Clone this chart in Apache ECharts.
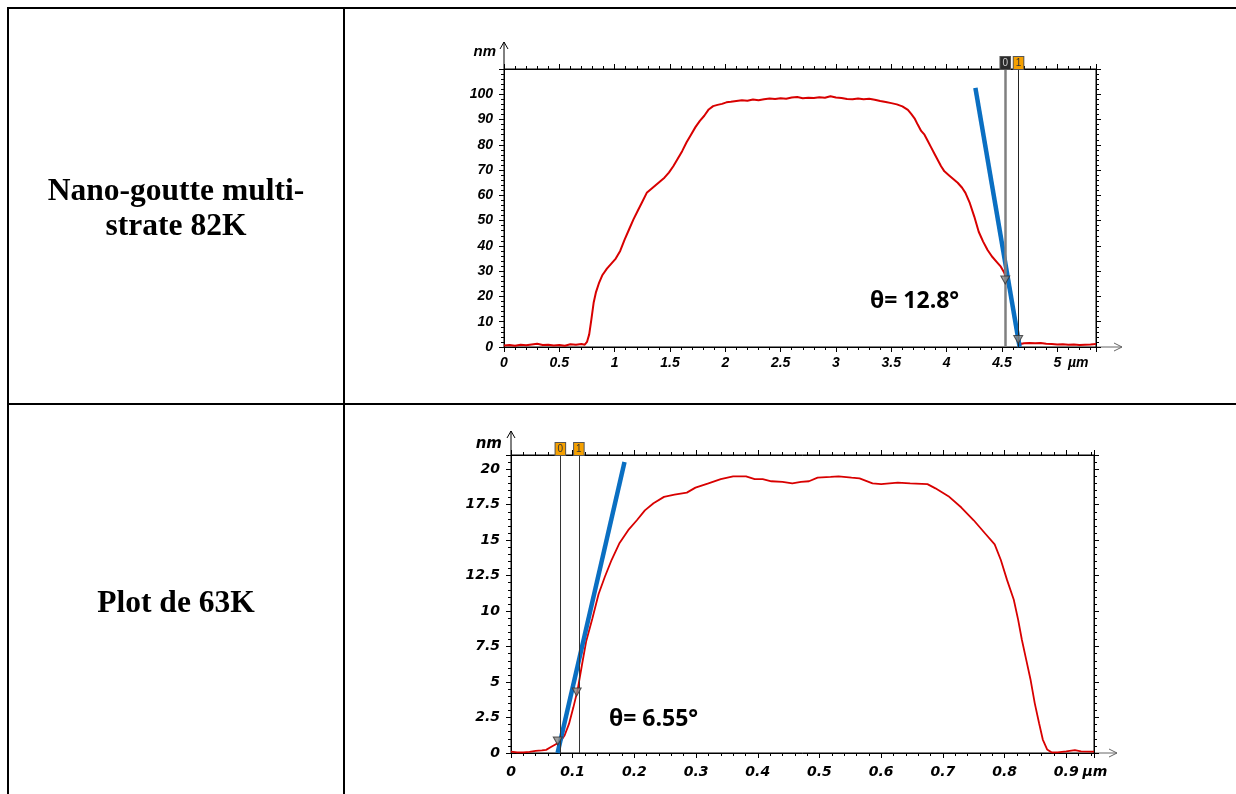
<!DOCTYPE html>
<html>
<head>
<meta charset="utf-8">
<script src="https://cdn.jsdelivr.net/npm/echarts@6/dist/echarts.min.js"></script>
<style>
html,body{margin:0;padding:0;background:#fff;}
#chart{width:1236px;height:794px;}
</style>
</head>
<body>
<div id="chart"></div>
<script>
// ---------- Data ----------
const rowLabels = ['Nano-goutte multi-\nstrate 82K', 'Plot de 63K'];
const thetaLabels = ['θ= 12.8°', 'θ= 6.55°'];

// Profile 1 (µm, nm)
const profile1X = [0.00,0.05,0.10,0.15,0.20,0.25,0.30,0.35,0.40,0.45,0.50,0.55,0.60,0.65,0.70,0.73,0.75,0.77,0.79,0.81,0.83,0.86,0.89,0.93,0.97,1.01,1.05,1.09,1.13,1.17,1.21,1.25,1.29,1.33,1.37,1.41,1.45,1.49,1.53,1.57,1.61,1.65,1.69,1.73,1.77,1.81,1.85,1.89,1.93,1.97,2.01,2.05,2.10,2.15,2.20,2.25,2.30,2.35,2.40,2.45,2.50,2.55,2.60,2.65,2.70,2.75,2.80,2.85,2.90,2.95,3.00,3.05,3.10,3.15,3.20,3.25,3.30,3.35,3.40,3.45,3.50,3.55,3.60,3.65,3.68,3.71,3.74,3.77,3.80,3.83,3.86,3.89,3.92,3.95,3.98,4.02,4.06,4.10,4.14,4.17,4.21,4.25,4.29,4.33,4.37,4.41,4.45,4.49,4.52,4.55,4.58,4.61,4.63,4.65,4.67,4.70,4.75,4.80,4.85,4.90,4.95,5.00,5.05,5.10,5.15,5.20,5.25,5.30,5.35];
const profile1Y = [0.6,0.8,0.5,0.9,0.7,1.0,1.3,0.8,0.9,0.6,0.8,0.5,1.1,0.9,1.2,0.9,2.0,5.0,11.0,17.5,21.5,25.5,28.5,31.0,33.0,35.0,38.0,42.5,46.5,50.5,54.0,57.5,61.0,62.5,64.0,65.5,67.0,69.0,71.5,74.5,77.5,81.0,84.0,87.0,89.5,91.5,94.0,95.3,95.8,96.2,96.8,97.0,97.3,97.6,97.4,97.9,97.6,98.0,98.3,98.1,98.4,98.2,98.7,98.9,98.4,98.6,98.5,98.8,98.6,99.2,98.7,98.5,98.1,98.0,98.3,98.0,98.2,97.8,97.3,96.9,96.5,96.0,95.2,93.8,92.2,90.5,87.9,85.5,84.0,81.5,79.0,76.5,74.0,71.5,69.5,68.0,66.5,65.0,63.0,61.0,56.9,51.6,45.6,41.7,38.4,35.8,33.8,31.8,29.5,25.5,20.0,13.0,8.0,3.0,1.2,1.5,1.6,1.5,1.6,1.3,1.2,1.0,1.1,0.9,1.0,0.8,0.9,1.0,1.2];

// Profile 2 (µm, nm)
const profile2X = [0.000,0.010,0.020,0.030,0.040,0.050,0.057,0.064,0.072,0.080,0.087,0.094,0.101,0.108,0.115,0.122,0.132,0.142,0.152,0.163,0.176,0.190,0.204,0.217,0.231,0.248,0.265,0.285,0.299,0.320,0.340,0.360,0.381,0.395,0.408,0.422,0.440,0.456,0.470,0.483,0.497,0.518,0.531,0.552,0.565,0.586,0.600,0.627,0.647,0.675,0.688,0.709,0.730,0.750,0.770,0.784,0.794,0.804,0.815,0.822,0.828,0.835,0.842,0.849,0.856,0.862,0.869,0.876,0.886,0.900,0.914,0.924,0.945];
const profile2Y = [0.10,0.05,0.05,0.08,0.15,0.18,0.22,0.40,0.60,0.80,1.25,2.05,3.20,4.45,6.20,7.90,9.50,11.2,12.4,13.6,14.8,15.7,16.4,17.1,17.6,18.05,18.2,18.35,18.7,19.0,19.3,19.5,19.5,19.3,19.3,19.15,19.1,19.0,19.1,19.15,19.4,19.46,19.5,19.4,19.35,19.0,18.95,19.05,19.0,18.95,18.65,18.1,17.3,16.4,15.4,14.7,13.6,12.2,10.8,9.4,8.0,6.6,5.2,3.5,2.1,0.95,0.25,0.05,0.05,0.12,0.2,0.12,0.1];

// Tangent lines (µm, nm)
const tangent1 = [[4.26, 102.5], [4.66, 0]];
const tangent2 = [[0.0755, 0], [0.184, 20.5]];

// Cursor positions (µm) and their marker heights (nm)
const cursors1X = [4.53, 4.647];
const cursors1Mark = [26.5, 3.0];
const cursors2X = [0.0758, 0.1065];
const cursors2Mark = [0.85, 4.3];
const cursorNames = ['0', '1'];

// Axis ranges
const xRange1 = [0, 5.35], yRange1 = [0, 110];
const xRange2 = [0, 0.945], yRange2 = [0, 21];
const xInterval1 = 0.5, yInterval1 = 10;
const xInterval2 = 0.1, yInterval2 = 2.5;

// ---------- Layout ----------
const G1 = {left: 504, top: 69, width: 592, height: 278};
const G2 = {left: 511, top: 455, width: 583, height: 298};

const zip = (xs, ys) => xs.map((x, i) => [x, ys[i]]);

const font1 = {fontFamily: 'Liberation Sans', fontWeight: 'bold', fontStyle: 'italic', fontSize: 14, color: '#000'};
const font2 = {fontFamily: 'DejaVu Sans', fontWeight: 'bold', fontStyle: 'italic', fontSize: 14, color: '#000'};

function mkX(grid, range, interval, font, bottom, nameGap, labelMargin, minorSplit) {
  return {
    type: 'value', gridIndex: grid, position: bottom ? 'bottom' : 'top',
    min: range[0], max: range[1], interval: interval,
    axisLine: {show: true, onZero: false, lineStyle: {color: '#000', width: 1}},
    axisTick: {show: true, inside: false, length: 5, lineStyle: {color: '#000'}},
    minorTick: {show: true, splitNumber: minorSplit, length: 3, lineStyle: {color: '#000'}},
    splitLine: {show: false},
    axisLabel: bottom ? Object.assign({show: true, margin: labelMargin, showMaxLabel: false, showMinLabel: true}, font) : {show: false},
    name: bottom ? 'µm' : '',
    nameLocation: 'end', nameGap: nameGap,
    nameTextStyle: Object.assign({align: 'left', verticalAlign: 'top', padding: [labelMargin, 0, 0, 0]}, font)
  };
}
function mkY(grid, range, interval, font, left, nameGap, namePad, minorSplit) {
  return {
    type: 'value', gridIndex: grid, position: left ? 'left' : 'right',
    min: range[0], max: range[1], interval: interval,
    axisLine: {show: true, onZero: false, lineStyle: {color: '#000', width: 1}},
    axisTick: {show: true, inside: false, length: 5, lineStyle: {color: '#000'}},
    minorTick: {show: true, splitNumber: minorSplit, length: 3, lineStyle: {color: '#000'}},
    splitLine: {show: false},
    axisLabel: left ? Object.assign({show: true, margin: 11, showMaxLabel: false}, font) : {show: false},
    name: left ? 'nm' : '',
    nameLocation: 'end', nameGap: nameGap,
    nameTextStyle: Object.assign({align: 'right', verticalAlign: 'middle', padding: [0, namePad, 0, 0]}, font, {fontSize: 15})
  };
}

function cursorMarkLine(xs, styles) {
  return {
    silent: true, symbol: ['none', 'none'], animation: false,
    data: xs.map((x, i) => ({
      xAxis: x,
      lineStyle: {type: 'solid', color: styles[i].line, width: styles[i].width},
      label: {
        show: true, position: 'end', distance: 0, formatter: cursorNames[i],
        backgroundColor: styles[i].bg, color: styles[i].fg,
        borderColor: '#555', borderWidth: 1,
        padding: [1, 2, 0, 2], fontSize: 10, fontFamily: 'Liberation Sans', lineHeight: 11
      }
    }))
  };
}

const triStyle = {color: '#8a8a8a', borderColor: '#333', borderWidth: 1};

// Table lines and labels (page decoration)
const tableGraphics = [
  {type: 'rect', shape: {x: 7, y: 7, width: 1229, height: 2}, style: {fill: '#000'}},
  {type: 'rect', shape: {x: 7, y: 7, width: 2, height: 787}, style: {fill: '#000'}},
  {type: 'rect', shape: {x: 343, y: 7, width: 2, height: 787}, style: {fill: '#000'}},
  {type: 'rect', shape: {x: 7, y: 403, width: 1229, height: 2}, style: {fill: '#000'}},
  {type: 'text', x: 176, y: 209, style: {text: rowLabels[0], font: 'bold 31.5px "Liberation Serif"', fill: '#000', align: 'center', verticalAlign: 'middle', lineHeight: 35}},
  {type: 'text', x: 176, y: 604, style: {text: rowLabels[1], font: 'bold 31.5px "Liberation Serif"', fill: '#000', align: 'center', verticalAlign: 'middle'}},
  // theta annotations
  {type: 'text', x: 870, y: 301, style: {text: thetaLabels[0], font: 'bold 23px "Open Sans"', fill: '#000', align: 'left', verticalAlign: 'middle'}},
  {type: 'text', x: 609, y: 719, style: {text: thetaLabels[1], font: 'bold 23px "Open Sans"', fill: '#000', align: 'left', verticalAlign: 'middle'}}
];

// axis arrows
function arrows(g, yTop, xEnd) {
  const xl = g.left, yb = g.top + g.height, xr = g.left + g.width;
  return [
    {type: 'line', shape: {x1: xl, y1: g.top, x2: xl, y2: yTop}, style: {stroke: '#000', lineWidth: 1}},
    {type: 'polyline', shape: {points: [[xl - 4, yTop + 7], [xl, yTop], [xl + 4, yTop + 7]]}, style: {stroke: '#000', lineWidth: 1, fill: null}},
    {type: 'line', shape: {x1: xr, y1: yb, x2: xEnd, y2: yb}, style: {stroke: '#666', lineWidth: 1}},
    {type: 'polyline', shape: {points: [[xEnd - 8, yb - 4], [xEnd, yb], [xEnd - 8, yb + 4]]}, style: {stroke: '#666', lineWidth: 1, fill: null}}
  ];
}

const option = {
  animation: false,
  backgroundColor: '#fff',
  grid: [
    Object.assign({show: true, borderColor: '#000', borderWidth: 1, containLabel: false}, G1),
    Object.assign({show: true, borderColor: '#000', borderWidth: 1, containLabel: false}, G2)
  ],
  xAxis: [
    mkX(0, xRange1, xInterval1, font1, true, -28, 9, 5),
    mkX(0, xRange1, xInterval1, font1, false, 0, 9, 5),
    mkX(1, xRange2, xInterval2, font2, true, -13, 12, 5),
    mkX(1, xRange2, xInterval2, font2, false, 0, 12, 5)
  ],
  yAxis: [
    mkY(0, yRange1, yInterval1, font1, true, 17, 8, 5),
    mkY(0, yRange1, yInterval1, font1, false, 0, 8, 5),
    mkY(1, yRange2, yInterval2, font2, true, 11, 9, 5),
    mkY(1, yRange2, yInterval2, font2, false, 0, 9, 5)
  ],
  graphic: tableGraphics.concat(arrows(G1, 42, 1122), arrows(G2, 431, 1117)),
  series: [
    {
      name: 'profile1', type: 'line', xAxisIndex: 0, yAxisIndex: 0,
      data: zip(profile1X, profile1Y), showSymbol: false, smooth: false,
      lineStyle: {color: '#d80000', width: 2}, z: 2,
      markLine: cursorMarkLine(cursors1X, [
        {line: '#808080', width: 2.5, bg: '#2b2b2b', fg: '#d0d0d0'},
        {line: '#222', width: 1, bg: '#f5a000', fg: '#333'}
      ])
    },
    {
      name: 'tangent1', type: 'line', xAxisIndex: 0, yAxisIndex: 0,
      data: tangent1, showSymbol: false, lineStyle: {color: '#0a6fc2', width: 4.5}, z: 4
    },
    {
      name: 'marks1', type: 'scatter', xAxisIndex: 0, yAxisIndex: 0,
      data: zip(cursors1X, cursors1Mark), symbol: 'triangle', symbolRotate: 180, symbolSize: [9, 8],
      itemStyle: triStyle, z: 5
    },
    {
      name: 'profile2', type: 'line', xAxisIndex: 2, yAxisIndex: 2,
      data: zip(profile2X, profile2Y), showSymbol: false, smooth: false,
      lineStyle: {color: '#d80000', width: 1.8}, z: 2,
      markLine: cursorMarkLine(cursors2X, [
        {line: '#333', width: 1, bg: '#f5a000', fg: '#333'},
        {line: '#333', width: 1, bg: '#f5a000', fg: '#333'}
      ])
    },
    {
      name: 'tangent2', type: 'line', xAxisIndex: 2, yAxisIndex: 2,
      data: tangent2, showSymbol: false, lineStyle: {color: '#0a6fc2', width: 4.5}, z: 4
    },
    {
      name: 'marks2', type: 'scatter', xAxisIndex: 2, yAxisIndex: 2,
      data: zip(cursors2X, cursors2Mark), symbol: 'triangle', symbolRotate: 180, symbolSize: [9, 8],
      itemStyle: triStyle, z: 5
    }
  ]
};

const chart = echarts.init(document.getElementById('chart'), null, {renderer: 'canvas'});
chart.setOption(option);
</script>
</body>
</html>
